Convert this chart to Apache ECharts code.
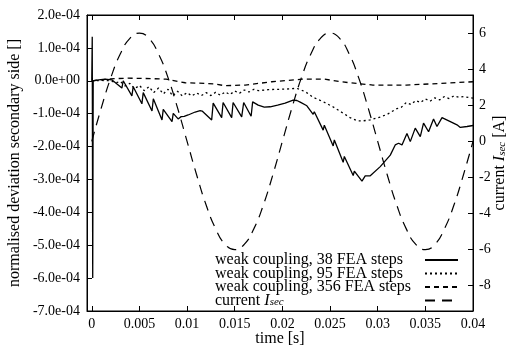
<!DOCTYPE html>
<html>
<head>
<meta charset="utf-8">
<script src="https://cdn.jsdelivr.net/npm/echarts@6/dist/echarts.min.js"></script>
<style>
  html, body { margin: 0; padding: 0; background: #fff; }
  #chart { width: 513px; height: 347px; }
</style>
</head>
<body>
<div id="chart"></div>
<script>
// deviation values are in units of 1e-4, time in s, current in A
var timeTicks = [0, 0.005, 0.01, 0.015, 0.02, 0.025, 0.03, 0.035, 0.04];
var currentTicks = [-8, -6, -4, -2, 0, 2, 4, 6];

var dev38 = [
  [0, 0], [0.00005, 1.34], [0.0001, -6.0], [0.00015, 0.0], [0.0005, 0.02], [0.0014, 0.05],
  [0.0021, 0.03], [0.00316, -0.22], [0.0033, 0.0], [0.00421, -0.46], [0.00435, -0.18],
  [0.00526, -0.70], [0.0054, -0.36], [0.00632, -0.92], [0.00646, -0.55], [0.00737, -1.19],
  [0.0075, -0.87], [0.00842, -1.24], [0.00855, -0.99], [0.00906, -1.16], [0.00938, -1.09],
  [0.0097, -1.08], [0.01011, -1.04], [0.01085, -0.95], [0.01137, -0.91], [0.01158, -0.92],
  [0.01258, -1.19], [0.01274, -0.68], [0.01363, -1.12], [0.01378, -0.66], [0.01468, -1.12],
  [0.01483, -0.66], [0.01573, -1.10], [0.01594, -0.66], [0.01672, -1.08], [0.01688, -0.64],
  [0.01746, -0.74], [0.0181, -0.80], [0.01872, -0.79], [0.0195, -0.74], [0.02029, -0.68],
  [0.02113, -0.59], [0.02152, -0.60], [0.02187, -0.65], [0.02257, -0.76], [0.02323, -1.02],
  [0.02335, -0.94], [0.02428, -1.50], [0.0244, -1.35], [0.02533, -1.98], [0.02545, -1.80],
  [0.02638, -2.48], [0.0265, -2.30], [0.02743, -2.88], [0.02755, -2.75], [0.02835, -3.05],
  [0.02869, -2.89], [0.02922, -2.89], [0.03027, -2.61], [0.03132, -2.26], [0.03184, -1.95],
  [0.03219, -1.90], [0.03255, -1.95], [0.03307, -1.60], [0.03342, -1.85], [0.03394, -1.44],
  [0.03447, -1.70], [0.03481, -1.29], [0.03534, -1.55], [0.03586, -1.16], [0.03622, -1.39],
  [0.03675, -1.12], [0.03762, -1.24], [0.03832, -1.34], [0.03867, -1.42], [0.03937, -1.39],
  [0.04, -1.36]
];

var dev95 = [
  [0, 0.0], [0.001, 0.01], [0.002, 0.0], [0.0025, -0.06], [0.003, -0.02], [0.0035, -0.16],
  [0.004, -0.08], [0.0045, -0.24], [0.005, -0.14], [0.0055, -0.30], [0.006, -0.18],
  [0.0065, -0.36], [0.007, -0.22], [0.0075, -0.40], [0.008, -0.26], [0.0085, -0.46],
  [0.009, -0.32], [0.0095, -0.46], [0.01, -0.36], [0.0105, -0.46], [0.011, -0.37],
  [0.0115, -0.45], [0.012, -0.36], [0.0125, -0.45], [0.013, -0.35], [0.0135, -0.44],
  [0.014, -0.34], [0.0145, -0.42], [0.015, -0.31], [0.0155, -0.38], [0.016, -0.28],
  [0.0165, -0.34], [0.017, -0.26], [0.0175, -0.30], [0.0185, -0.27], [0.0195, -0.26],
  [0.0205, -0.25], [0.0215, -0.23], [0.0224, -0.33], [0.0232, -0.50], [0.0243, -0.64],
  [0.0253, -0.79], [0.0264, -0.99], [0.0271, -1.12], [0.0279, -1.22], [0.0284, -1.22],
  [0.0292, -1.19], [0.0303, -1.10], [0.031, -1.02], [0.032, -0.85], [0.0325, -0.80],
  [0.033, -0.66], [0.0335, -0.72], [0.034, -0.60], [0.0345, -0.66], [0.035, -0.55],
  [0.0355, -0.62], [0.036, -0.52], [0.0365, -0.58], [0.037, -0.48], [0.0375, -0.54],
  [0.038, -0.46], [0.0385, -0.50], [0.039, -0.48], [0.04, -0.53]
];

var dev356 = [
  [0, 0.0], [0.001, 0.03], [0.002, 0.06], [0.0038, 0.08], [0.0056, 0.07], [0.0078, 0.05],
  [0.0098, -0.06], [0.0119, -0.08], [0.0129, -0.10], [0.014, -0.15], [0.0161, -0.13],
  [0.0189, -0.03], [0.0221, 0.05], [0.0244, 0.05], [0.0261, -0.03], [0.0295, -0.13],
  [0.033, -0.13], [0.0366, -0.08], [0.04, -0.03]
];

var currentTime = [
  0, 0.001, 0.002, 0.003, 0.004, 0.005, 0.006, 0.007, 0.008, 0.009, 0.01,
  0.011, 0.012, 0.013, 0.014, 0.015, 0.016, 0.017, 0.018, 0.019, 0.02,
  0.021, 0.022, 0.023, 0.024, 0.025, 0.026, 0.027, 0.028, 0.029, 0.03,
  0.031, 0.032, 0.033, 0.034, 0.035, 0.036, 0.037, 0.038, 0.039, 0.04
];
var currentIsec = [
  0, 1.85, 3.53, 4.85, 5.71, 6.0, 5.71, 4.85, 3.53, 1.85, 0,
  -1.85, -3.53, -4.85, -5.71, -6.0, -5.71, -4.85, -3.53, -1.85, 0,
  1.85, 3.53, 4.85, 5.71, 6.0, 5.71, 4.85, 3.53, 1.85, 0,
  -1.85, -3.53, -4.85, -5.71, -6.0, -5.71, -4.85, -3.53, -1.85, 0
];

var font = 'Liberation Serif';
var chart = echarts.init(document.getElementById('chart'));

var tickStyle = { show: true, inside: true, length: 5, lineStyle: { color: '#000', width: 1 } };
var axisLineStyle = { show: true, onZero: false, lineStyle: { color: '#000', width: 1 } };

chart.setOption({
  animation: false,
  grid: {
    left: 87, right: 40, top: 15, bottom: 36, outerBoundsMode: 'none', containLabel: false,
    show: true, borderColor: '#000', borderWidth: 1
  },
  legend: {
    orient: 'vertical',
    align: 'right',
    right: 54,
    top: 252,
    padding: 0,
    itemGap: -2.5,
    itemWidth: 33,
    itemHeight: 13,
    selectedMode: false,
    itemStyle: { opacity: 0 },
    textStyle: {
      fontFamily: font, fontSize: 16, color: '#000', lineHeight: 13.5, width: 199, padding: [0, 6, 0, 0],
      rich: {
        t: { fontFamily: font, fontSize: 16, color: '#000', lineHeight: 13.5, align: 'left' },
        i: { fontFamily: font, fontSize: 16, fontStyle: 'italic', color: '#000', lineHeight: 13.5, align: 'left' },
        s: { fontFamily: font, fontSize: 11, fontStyle: 'italic', color: '#000', verticalAlign: 'bottom', lineHeight: 13.5, align: 'left' }
      }
    },
    formatter: function (name) {
      return name === 'current Isec' ? '{t|current }{i|I}{s|sec}' : '{t|' + name + '}';
    },
    data: ['weak coupling, 38 FEA steps', 'weak coupling, 95 FEA steps', 'weak coupling, 356 FEA steps', 'current Isec']
  },
  xAxis: [
    {
      type: 'value', position: 'bottom', min: -0.0005, max: 0.04,
      name: 'time [s]', nameLocation: 'middle', nameGap: 20, nameMoveOverlap: false,
      nameTextStyle: { fontFamily: font, fontSize: 16, color: '#000' },
      axisLine: axisLineStyle,
      axisTick: Object.assign({ customValues: timeTicks }, tickStyle),
      axisLabel: {
        customValues: timeTicks, margin: 6, fontFamily: font, fontSize: 14, color: '#000',
        formatter: function (v) { return v === 0 ? '0' : String(+v.toFixed(4)); }
      },
      splitLine: { show: false }
    },
    {
      type: 'value', position: 'top', min: -0.0005, max: 0.04,
      axisLine: axisLineStyle,
      axisTick: Object.assign({ customValues: timeTicks }, tickStyle),
      axisLabel: { show: false },
      splitLine: { show: false }
    }
  ],
  yAxis: [
    {
      type: 'value', position: 'left', min: -7, max: 2, interval: 1,
      name: 'normalised deviation secondary side []', nameLocation: 'middle', nameRotate: 90,
      nameGap: 64, nameMoveOverlap: false,
      nameTextStyle: { fontFamily: font, fontSize: 16, color: '#000' },
      axisLine: axisLineStyle,
      axisTick: tickStyle,
      axisLabel: {
        margin: 7, fontFamily: font, fontSize: 14, color: '#000',
        formatter: function (v) {
          var r = Math.round(v * 10) / 10;
          return r === 0 ? '0.0e+00' : r.toFixed(1) + 'e-04';
        }
      },
      splitLine: { show: false }
    },
    {
      type: 'value', position: 'right', min: -9.4, max: 7,
      name: 'current {i|I}{s|sec} [A]', nameLocation: 'middle', nameRotate: 90,
      nameGap: 19, nameMoveOverlap: false,
      nameTextStyle: {
        fontFamily: font, fontSize: 16, color: '#000',
        rich: {
          i: { fontFamily: font, fontSize: 16, fontStyle: 'italic', color: '#000' },
          s: { fontFamily: font, fontSize: 11, fontStyle: 'italic', color: '#000', verticalAlign: 'bottom' }
        }
      },
      axisLine: axisLineStyle,
      axisTick: Object.assign({ customValues: currentTicks }, tickStyle),
      axisLabel: { customValues: currentTicks, margin: 6, fontFamily: font, fontSize: 14, color: '#000' },
      splitLine: { show: false }
    }
  ],
  series: [
    {
      name: 'weak coupling, 38 FEA steps', type: 'line', xAxisIndex: 0, yAxisIndex: 0,
      symbol: 'none', data: dev38,
      lineStyle: { color: '#000', width: 1.3 }, itemStyle: { color: '#000' }
    },
    {
      name: 'weak coupling, 95 FEA steps', type: 'line', xAxisIndex: 0, yAxisIndex: 0,
      symbol: 'none', data: dev95,
      lineStyle: { color: '#000', width: 1.3, type: [2, 3] }, itemStyle: { color: '#000' }
    },
    {
      name: 'weak coupling, 356 FEA steps', type: 'line', xAxisIndex: 0, yAxisIndex: 0,
      symbol: 'none', data: dev356,
      lineStyle: { color: '#000', width: 1.3, type: [5, 4] }, itemStyle: { color: '#000' }
    },
    {
      name: 'current Isec', type: 'line', xAxisIndex: 0, yAxisIndex: 1,
      symbol: 'none', smooth: true,
      data: currentTime.map(function (t, i) { return [t, currentIsec[i]]; }),
      lineStyle: { color: '#000', width: 1.2, type: [10, 7] }, itemStyle: { color: '#000' }
    }
  ]
});
</script>
</body>
</html>
